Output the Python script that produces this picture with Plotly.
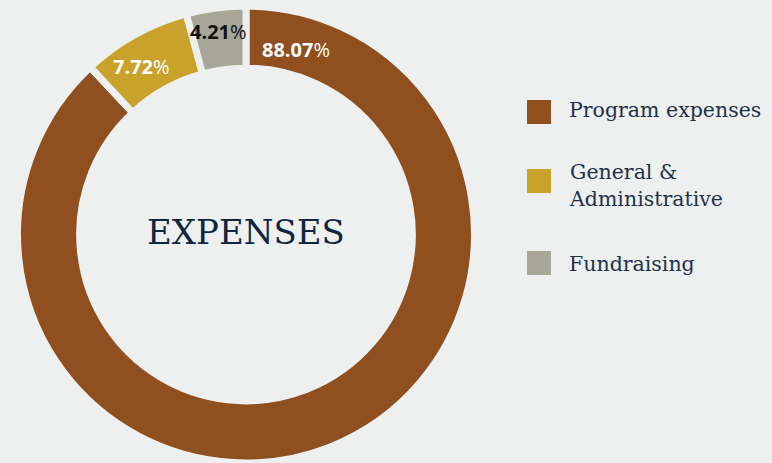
import math
import plotly.graph_objects as go

labels = ["Program expenses", "General &<br>Administrative", "Fundraising"]
values = [88.07, 7.72, 4.21]
colors = ["#8f4f1f", "#c9a22b", "#a8a797"]
label_colors = ["#ffffff", "#ffffff", "#111111"]
center_title = "EXPENSES"

W, H = 772, 463
cx_px, cy_px = 246, 235
R = 229
hole = 0.728
bg = "#eeefef"

fig = go.Figure()
fig.add_trace(go.Pie(
    labels=labels, values=values, sort=False, direction="clockwise", rotation=0,
    hole=hole, marker=dict(colors=colors, line=dict(color=bg, width=7)),
    textinfo="none", hoverinfo="label+percent", showlegend=False,
    domain=dict(x=[(cx_px - R) / W, (cx_px + R) / W],
                y=[max(0, (H - cy_px - R) / H), (H - cy_px + R) / H]),
))

# label placement: fraction of each slice's angular span, and radius in px
label_frac = [0.048, 0.4, 0.5]
label_r = [192, 198, 205]

annotations = []
total = sum(values)
start = 0.0
for v, c, fr, rr in zip(values, label_colors, label_frac, label_r):
    span = v / total * 360
    a = math.radians(start + span * fr)
    x = cx_px + rr * math.sin(a)
    y = cy_px - rr * math.cos(a)
    txt = f"<b>{v:.2f}</b>%"
    annotations.append(dict(x=x / W, y=1 - y / H, xref="paper", yref="paper", text=txt,
                            showarrow=False, font=dict(family="Open Sans", size=20, color=c),
                            xanchor="center", yanchor="middle"))
    start += span

annotations.append(dict(x=cx_px / W, y=1 - 232 / H, xref="paper", yref="paper", text=center_title,
                        showarrow=False, font=dict(family="DejaVu Serif", size=34, color="#102640"),
                        xanchor="center", yanchor="middle"))

shapes = []
legend_y = [112, 181, 263]
text_y = [110, 186, 264]
for lab, col, ly, ty in zip(labels, colors, legend_y, text_y):
    shapes.append(dict(type="rect", xref="paper", yref="paper",
                       x0=527 / W, x1=551 / W, y0=1 - (ly - 12) / H, y1=1 - (ly + 12) / H,
                       fillcolor=col, line=dict(width=0)))
    annotations.append(dict(x=567 / W, y=1 - ty / H, xref="paper", yref="paper", text=lab,
                            showarrow=False, align="left", xanchor="left", yanchor="middle",
                            font=dict(family="DejaVu Serif", size=20.5, color="#1d3248")))

fig.update_layout(
    width=W, height=H, margin=dict(l=0, r=0, t=0, b=0),
    paper_bgcolor=bg, plot_bgcolor=bg,
    annotations=annotations, shapes=shapes,
)
fig.write_html("out.html", config={"displayModeBar": False},
               post_script="document.body.style.margin='0';document.body.style.overflow='hidden';")
